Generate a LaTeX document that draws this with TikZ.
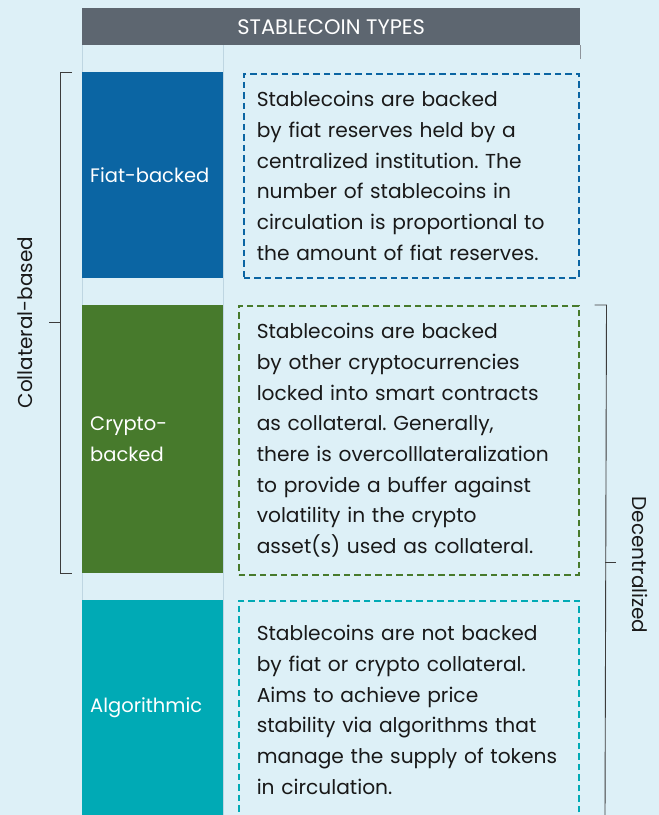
\documentclass[tikz,border=0pt]{standalone}
\usepackage{fontspec}
\setmainfont{Poppins}
\usepackage{xcolor}
\usepackage{tikz}
\usetikzlibrary{positioning, calc}
\definecolor{SCBack}{RGB}{221,240,247}
\definecolor{SCHead}{RGB}{93,102,112}
\definecolor{SCFiat}{RGB}{11,101,163}
\definecolor{SCCrypto}{RGB}{71,122,44}
\definecolor{SCAlgo}{RGB}{0,170,181}
\definecolor{SCText}{RGB}{25,25,25}
\definecolor{SCRule}{RGB}{60,60,60}
\definecolor{SCGrid}{RGB}{190,214,226}
\frenchspacing

\begin{document}
\begin{tikzpicture}[x=1pt, y=-1pt,
      head/.style={rectangle, anchor=north west, fill=SCHead, text=white,
                   minimum width=498pt, minimum height=37pt, inner sep=0pt,
                   font=\fontsize{21}{24}\selectfont},
      typebox/.style={rectangle, anchor=north west, minimum width=141pt,
                   text width=125pt, inner xsep=8pt, align=left, text=white,
                   font=\fontsize{19.5}{30.7}\selectfont},
      desc/.style={rectangle, anchor=north west, dash pattern=on 6.5pt off 4pt,
                   line width=1.5pt, align=left, text=SCText,
                   font=\fontsize{20.2}{30.7}\selectfont},
      bracket/.style={draw=SCRule, line width=0.9pt},
      side/.style={text=SCText, font=\fontsize{20}{22}\selectfont}
    ]
    \fill[SCBack] (0,0) rectangle (659,815);
    \useasboundingbox (0,0) rectangle (659,815);

    % Header and column rules
    \node[head] (title) at (82,8) {STABLECOIN TYPES};
    \draw[SCGrid, line width=0.8pt] (82,45) -- (82,815);
    \draw[SCGrid, line width=0.8pt] (223,45) -- (223,815);
    \draw[SCHead!70, line width=0.8pt] (title.south east) -- ++(0,14);

    % Type column
    \node[typebox, fill=SCFiat, minimum height=206pt] (fiat) at (82,72)
          {Fiat-backed};
    \node[typebox, fill=SCCrypto, minimum height=268pt] (crypto) at (82,305)
          {Crypto-\\backed};
    \node[typebox, fill=SCAlgo, minimum height=215pt] (algo) at (82,600)
          {Algorithmic};

    % Descriptions
    \node[desc, draw=SCFiat, minimum width=335pt, minimum height=204pt,
          text width=309pt, inner xsep=13pt] (fiatdesc) at (243,73)
          {Stablecoins are backed\\by fiat reserves held by a\\centralized institution. The\\number of stablecoins in\\circulation is proportional to\\the amount of fiat reserves.};
    \node[desc, draw=SCCrypto, minimum width=340pt, minimum height=269pt,
          text width=304pt, inner xsep=18pt] (cryptodesc) at (238,305)
          {Stablecoins are backed\\by other cryptocurrencies\\locked into smart contracts\\as collateral. Generally,\\there is overcolllateralization\\to provide a buffer against\\volatility in the crypto\\asset(s) used as collateral.};
    \node[desc, draw=SCAlgo, minimum width=340pt, minimum height=218pt,
          text width=304pt, inner xsep=18pt] (algodesc) at (238,600)
          {Stablecoins are not backed\\by fiat or crypto collateral.\\Aims to achieve price\\stability via algorithms that\\manage the supply of tokens\\in circulation.};

    % Brackets
    \draw[bracket] ([xshift=-10pt]fiat.north west) -- ++(-12,0)
          |- ([xshift=-10pt]crypto.south west);
    \coordinate (cmid) at (60,322.5);
    \draw[bracket] (cmid) -- ++(-11,0);
    \node[side, rotate=90] (collat) at (25,322.5) {Collateral-based};

    \draw[bracket] ([xshift=15pt]cryptodesc.north east) -- ++(12,0) -- (605,819);
    \coordinate (dmid) at (605,562);
    \draw[bracket] (dmid) -- ++(11,0);
    \node[side, rotate=-90] (decent) at (640,565) {Decentralized};
  \end{tikzpicture}
\end{document}
